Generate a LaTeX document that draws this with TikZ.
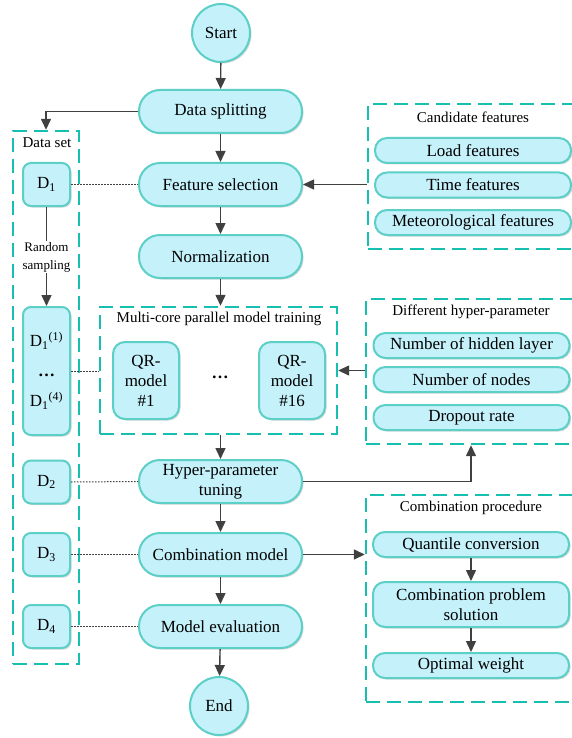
\documentclass[tikz,border=0pt]{standalone}
\usepackage{fontspec}
\setmainfont{Liberation Serif}
\usetikzlibrary{arrows.meta,shadows}
\definecolor{boxfill}{HTML}{C5F1FB}
\definecolor{boxline}{HTML}{5CCFC6}
\definecolor{dashc}{HTML}{17BFB0}
\definecolor{arr}{HTML}{404040}
\begin{document}
\begin{tikzpicture}[x=1pt,y=-1pt,
 base/.style={draw=boxline, line width=2pt, fill=boxfill, align=center, inner sep=0pt,
   font=\fontsize{17}{20}\selectfont,
   drop shadow={shadow xshift=1.5pt,shadow yshift=-1.5pt,fill=black!15,opacity=1}},
 term/.style={base,circle,minimum size=58pt},
 proc/.style={base,rectangle,rounded corners=21pt,minimum width=163pt,minimum height=43pt},
 sub/.style={base,rectangle,rounded corners=12pt,minimum width=196pt,minimum height=25pt},
 dbox/.style={base,rectangle,rounded corners=8pt,minimum width=47pt,minimum height=43pt},
 grp/.style={draw=dashc,line width=2.4pt,dash pattern=on 14pt off 7pt,rectangle,inner sep=0pt},
 title/.style={font=\fontsize{15}{17}\selectfont,inner sep=0pt},
 arrow/.style={draw=arr,line width=1.4pt,-{Triangle[length=11pt,width=10pt]}},
 link/.style={draw=arr,line width=1pt,dash pattern=on 1.5pt off 1.5pt}]
\useasboundingbox (0,0) rectangle (572,738);
\clip (0,0) rectangle (572,738);
\fill[white] (0,0) rectangle (572,738);

% group boxes
\node[grp,minimum width=66pt,minimum height=533pt] (ds) at (46,397.5) {};
\node[title] (dstitle) at (47,143) {Data set};
\node[grp,minimum width=237pt,minimum height=127pt] (mc) at (218.5,370.5) {};
\node[title] (mctitle) at (219,319) {Multi-core parallel model training};
\node[grp,minimum width=210pt,minimum height=145pt] (cand) at (473,176.5) {};
\node[title] (candtitle) at (473,117) {Candidate features};
\node[grp,minimum width=210pt,minimum height=145pt] (hp) at (471,371.5) {};
\node[title] (hptitle) at (471,312) {Different hyper-parameter};
\node[grp,minimum width=210pt,minimum height=207pt] (cp) at (471,598.5) {};
\node[title] (cptitle) at (471,508) {Combination procedure};

% main flow
\node[term] (start) at (221,33) {Start};
\node[proc] (split) at (220.5,111.5) {Data splitting};
\node[proc] (fsel) at (220.5,184.5) {Feature selection};
\node[proc] (norm) at (220.5,256.5) {Normalization};
\node[dbox,minimum width=66pt,minimum height=77pt,rounded corners=12pt] (qr1) at (146,380.5) {QR-\\model\\\#1};
\node[dbox,minimum width=66pt,minimum height=77pt,rounded corners=12pt] (qr16) at (292,380.5) {QR-\\model\\\#16};
\node[font=\fontsize{17}{20}\selectfont\bfseries] (dots) at (220,377) {…};
\node[proc] (hyper) at (220.5,481.5) {Hyper-parameter\\tuning};
\node[proc] (comb) at (220.5,554.5) {Combination model};
\node[proc] (eval) at (220.5,626.5) {Model evaluation};
\node[term] (end) at (219,706) {End};

% data set
\node[dbox] (d1) at (46.5,184.5) {D\textsubscript{1}};
\node[dbox,minimum height=128pt] (d1g) at (46.5,371) {D\textsubscript{1}\textsuperscript{(1)}\\[10pt]{\bfseries …}\\[10pt]D\textsubscript{1}\textsuperscript{(4)}};
\node[dbox] (d2) at (46.5,482) {D\textsubscript{2}};
\node[dbox] (d3) at (46.5,554.5) {D\textsubscript{3}};
\node[dbox] (d4) at (46.5,626.5) {D\textsubscript{4}};

% candidate features
\node[sub] (load) at (473,150.5) {Load features};
\node[sub] (time) at (473,185) {Time features};
\node[sub] (met) at (473,222.5) {Meteorological features};

% hyper-parameters
\node[sub] (hid) at (471.5,345.5) {Number of hidden layer};
\node[sub] (nod) at (471.5,379.5) {Number of nodes};
\node[sub] (drop) at (471.5,417.5) {Dropout rate};

% combination procedure
\node[sub] (qc) at (471,544.5) {Quantile conversion};
\node[sub,minimum height=45pt] (cps) at (471,604.5) {Combination problem\\solution};
\node[sub] (ow) at (471,665.5) {Optimal weight};

% arrows
\draw[arrow] (start) -- (split);
\draw[arrow] (split) -- (fsel);
\draw[arrow] (fsel) -- (norm);
\draw[arrow] (norm) -- (mc.north -| norm);
\draw[arrow] (mc.south -| hyper) -- (hyper);
\draw[arrow] (hyper) -- (comb);
\draw[arrow] (comb) -- (eval);
\draw[arrow] (eval) -- (end);
\draw[arrow] (split.west) -| (ds.north);
\draw[arrow] (cand.west |- fsel.east) -- (fsel.east);
\draw[arrow] (hp.west |- mc.east) -- (mc.east);
\draw[arrow] (hyper.east) -| (hp.south);
\draw[arrow] (comb.east) -- (comb.east -| cp.west);
\draw[arrow] (qc) -- (cps);
\draw[arrow] (cps) -- (ow);
\draw[arrow] (d1) -- (d1g);
\node[fill=white,inner sep=1pt,align=center,font=\fontsize{13}{18}\selectfont] (rs) at (46.5,257) {Random\\sampling};

% dotted links
\draw[link] (d1.east) -- (fsel.west);
\draw[link] (d1g.east) -- (d1g.east -| mc.west);
\draw[link] (d2.east) -- (hyper.west);
\draw[link] (d3.east) -- (comb.west);
\draw[link] (d4.east) -- (eval.west);
\end{tikzpicture}
\end{document}
